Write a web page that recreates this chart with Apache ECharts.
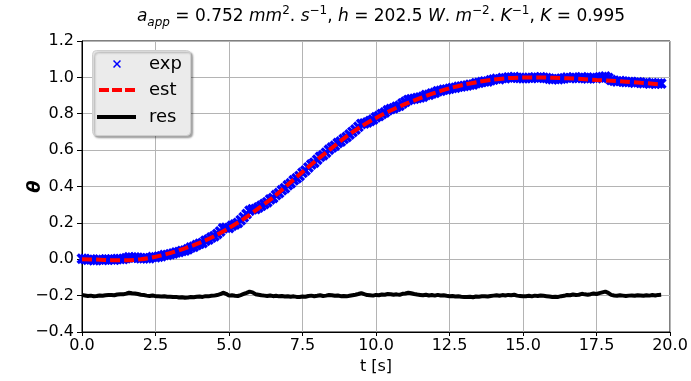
<!DOCTYPE html>
<html>
<head>
<meta charset="utf-8">
<script src="https://cdn.jsdelivr.net/npm/echarts@6/dist/echarts.min.js"></script>
<style>
html,body{margin:0;padding:0;background:#fff;}
#chart{width:691px;height:381px;}
</style>
</head>
<body>
<div id="chart"></div>
<script>
// ---- data ----
const time = [
0.0,0.1,0.2,0.3,0.4,0.5,0.6,0.7,0.8,0.9,
1.0,1.1,1.2,1.3,1.4,1.5,1.6,1.7,1.8,1.9,
2.0,2.1,2.2,2.3,2.4,2.5,2.6,2.7,2.8,2.9,
3.0,3.1,3.2,3.3,3.4,3.5,3.6,3.7,3.8,3.9,
4.0,4.1,4.2,4.3,4.4,4.5,4.6,4.7,4.8,4.9,
5.0,5.1,5.2,5.3,5.4,5.5,5.6,5.7,5.8,5.9,
6.0,6.1,6.2,6.3,6.4,6.5,6.6,6.7,6.8,6.9,
7.0,7.1,7.2,7.3,7.4,7.5,7.6,7.7,7.8,7.9,
8.0,8.1,8.2,8.3,8.4,8.5,8.6,8.7,8.8,8.9,
9.0,9.1,9.2,9.3,9.4,9.5,9.6,9.7,9.8,9.9,
10.0,10.1,10.2,10.3,10.4,10.5,10.6,10.7,10.8,10.9,
11.0,11.1,11.2,11.3,11.4,11.5,11.6,11.7,11.8,11.9,
12.0,12.1,12.2,12.3,12.4,12.5,12.6,12.7,12.8,12.9,
13.0,13.1,13.2,13.3,13.4,13.5,13.6,13.7,13.8,13.9,
14.0,14.1,14.2,14.3,14.4,14.5,14.6,14.7,14.8,14.9,
15.0,15.1,15.2,15.3,15.4,15.5,15.6,15.7,15.8,15.9,
16.0,16.1,16.2,16.3,16.4,16.5,16.6,16.7,16.8,16.9,
17.0,17.1,17.2,17.3,17.4,17.5,17.6,17.7,17.8,17.9,
18.0,18.1,18.2,18.3,18.4,18.5,18.6,18.7,18.8,18.9,
19.0,19.1,19.2,19.3,19.4,19.5,19.6,19.7];

const expValues = [
0.003,0.001,-0.003,-0.001,-0.005,-0.004,-0.002,-0.004,-0.002,-0.001,
-0.001,-0.003,0.001,0.002,0.001,0.005,0.011,0.009,0.010,0.008,
0.005,0.006,0.006,0.006,0.012,0.011,0.014,0.017,0.023,0.024,
0.028,0.031,0.037,0.040,0.046,0.048,0.055,0.064,0.069,0.078,
0.085,0.090,0.102,0.108,0.119,0.127,0.139,0.153,0.170,0.173,
0.172,0.184,0.191,0.200,0.215,0.231,0.249,0.267,0.275,0.276,
0.285,0.294,0.304,0.314,0.329,0.337,0.353,0.364,0.380,0.391,
0.407,0.418,0.434,0.445,0.458,0.475,0.488,0.505,0.521,0.531,
0.547,0.563,0.572,0.586,0.602,0.614,0.624,0.639,0.647,0.661,
0.672,0.686,0.700,0.713,0.728,0.744,0.747,0.752,0.760,0.768,
0.781,0.787,0.799,0.807,0.819,0.826,0.830,0.839,0.844,0.857,
0.866,0.876,0.880,0.882,0.886,0.890,0.894,0.903,0.904,0.912,
0.915,0.924,0.926,0.932,0.934,0.937,0.942,0.943,0.948,0.950,
0.953,0.955,0.960,0.961,0.968,0.970,0.974,0.978,0.978,0.984,
0.988,0.992,0.990,0.996,0.995,1.000,0.999,1.002,0.998,0.996,
0.995,0.996,0.998,0.996,1.000,0.998,1.001,0.998,0.996,0.993,
0.990,0.991,0.990,0.993,0.995,0.999,0.996,0.999,0.996,0.997,
1.001,0.997,0.994,0.996,0.999,0.995,0.999,1.002,1.005,0.997,
0.985,0.981,0.978,0.980,0.977,0.974,0.975,0.975,0.971,0.973,
0.971,0.968,0.970,0.966,0.968,0.965,0.967,0.966];

const resValues = [
-0.197,-0.199,-0.202,-0.200,-0.203,-0.202,-0.199,-0.201,-0.198,-0.197,
-0.196,-0.198,-0.194,-0.192,-0.193,-0.189,-0.184,-0.187,-0.188,-0.191,
-0.195,-0.197,-0.200,-0.202,-0.199,-0.203,-0.204,-0.205,-0.203,-0.206,
-0.206,-0.208,-0.207,-0.210,-0.209,-0.212,-0.211,-0.208,-0.209,-0.206,
-0.205,-0.207,-0.203,-0.204,-0.201,-0.200,-0.197,-0.192,-0.184,-0.190,
-0.200,-0.198,-0.201,-0.202,-0.197,-0.191,-0.185,-0.178,-0.182,-0.192,
-0.195,-0.198,-0.200,-0.202,-0.199,-0.203,-0.201,-0.204,-0.202,-0.205,
-0.203,-0.206,-0.204,-0.207,-0.208,-0.205,-0.206,-0.202,-0.200,-0.203,
-0.201,-0.198,-0.202,-0.200,-0.197,-0.198,-0.201,-0.199,-0.203,-0.202,
-0.204,-0.201,-0.198,-0.195,-0.191,-0.186,-0.192,-0.197,-0.198,-0.200,
-0.196,-0.198,-0.194,-0.195,-0.191,-0.192,-0.195,-0.193,-0.196,-0.190,
-0.188,-0.184,-0.187,-0.191,-0.194,-0.196,-0.198,-0.195,-0.199,-0.197,
-0.200,-0.196,-0.199,-0.198,-0.201,-0.203,-0.202,-0.205,-0.204,-0.206,
-0.207,-0.208,-0.206,-0.209,-0.205,-0.206,-0.204,-0.203,-0.205,-0.202,
-0.200,-0.198,-0.201,-0.197,-0.199,-0.196,-0.198,-0.195,-0.200,-0.202,
-0.204,-0.203,-0.201,-0.204,-0.200,-0.202,-0.199,-0.201,-0.203,-0.205,
-0.208,-0.206,-0.207,-0.203,-0.201,-0.196,-0.198,-0.194,-0.197,-0.195,
-0.190,-0.193,-0.195,-0.192,-0.188,-0.191,-0.186,-0.182,-0.178,-0.185,
-0.196,-0.199,-0.201,-0.198,-0.200,-0.202,-0.200,-0.199,-0.201,-0.198,
-0.199,-0.201,-0.198,-0.200,-0.197,-0.199,-0.196,-0.195];

const estTime = [0.0,0.5,1.0,1.5,2.0,2.5,3.0,3.5,4.0,4.5,5.0,5.5,6.0,6.5,7.0,7.5,8.0,8.5,9.0,9.5,
10.0,10.5,11.0,11.5,12.0,12.5,13.0,13.5,14.0,14.5,15.0,15.5,16.0,16.5,17.0,17.5,18.0,18.5,19.0,19.5,19.7];
const estValues = [0.000,-0.002,-0.005,-0.006,0.000,0.014,0.034,0.060,0.090,0.127,0.172,0.222,0.280,0.340,0.410,0.480,0.548,0.612,0.676,0.730,
0.777,0.818,0.854,0.886,0.915,0.940,0.960,0.976,0.988,0.996,0.999,1.000,0.998,0.995,0.991,0.986,0.981,0.976,0.970,0.964,0.961];

const seriesNames = ['exp', 'est', 'res'];
const xTicks = {min: 0, max: 20, interval: 2.5};
const yTicks = {min: -0.4, max: 1.2, interval: 0.2};

// ---- chart ----
const FONT = 'DejaVu Sans';
const pair = (xs, ys) => xs.map((x, i) => [x, ys[i]]);
const X_THICK = 'path://M0,2.2L2.2,0L5,2.8L7.8,0L10,2.2L7.2,5L10,7.8L7.8,10L5,7.2L2.2,10L0,7.8L2.8,5Z';
const X_THIN = 'path://M0,1.3L1.3,0L5,3.7L8.7,0L10,1.3L6.3,5L10,8.7L8.7,10L5,6.3L1.3,10L0,8.7L3.7,5Z';
const DASH_ICON = 'path://M0,0h10v4h-10zM13,0h10v4h-10zM26,0h10v4h-10z';
const fmtMinus = s => s.replace('-', '\u2212');
const legendText = pad => ({fontFamily: FONT, fontSize: 18, color: '#000', lineHeight: 20, padding: [0, 0, 0, pad]});

const chart = echarts.init(document.getElementById('chart'), null, {renderer: 'canvas'});
const option = {
  animation: false,
  backgroundColor: '#ffffff',
  title: {
    left: 376, top: 0, textAlign: 'center',
    text: '{i|a}{sub|app}{n| = 0.752 }{i|mm}{sup|2}{n|. }{i|s}{sup|\u22121}{n|, }{i|h}{n| = 202.5 }{i|W}{n|. }{i|m}{sup|\u22122}{n|. }{i|K}{sup|\u22121}{n|, }{i|K}{n| = 0.995}',
    textStyle: {
      fontFamily: FONT, fontSize: 17, fontWeight: 'normal', color: '#000',
      rich: {
        n: {fontFamily: FONT, fontSize: 17, color: '#000', lineHeight: 24},
        i: {fontFamily: FONT, fontSize: 17, fontStyle: 'italic', color: '#000', lineHeight: 24},
        sub: {fontFamily: FONT, fontSize: 12, fontStyle: 'italic', color: '#000', lineHeight: 10, verticalAlign: 'bottom'},
        sup: {fontFamily: FONT, fontSize: 12, color: '#000', lineHeight: 13, verticalAlign: 'top'}
      }
    }
  },
  grid: {left: 82, right: 21, top: 41, bottom: 49, show: true, borderColor: '#000', borderWidth: 1, backgroundColor: 'transparent'},
  xAxis: {
    type: 'value', min: xTicks.min, max: xTicks.max, interval: xTicks.interval,
    name: 't [s]', nameLocation: 'middle', nameGap: 27, nameMoveOverlap: false,
    nameTextStyle: {fontFamily: FONT, fontSize: 16, color: '#000'},
    axisLine: {show: true, onZero: false, lineStyle: {color: '#000', width: 1}},
    axisTick: {show: true, length: 4, lineStyle: {color: '#000'}},
    axisLabel: {fontFamily: FONT, fontSize: 16, color: '#000', margin: 6, formatter: v => fmtMinus(v.toFixed(1))},
    splitLine: {show: true, lineStyle: {color: '#b4b4b4', width: 1}}
  },
  yAxis: {
    type: 'value', min: yTicks.min, max: yTicks.max, interval: yTicks.interval,
    name: '\u03b8', nameLocation: 'middle', nameGap: 38, nameRotate: 90, nameMoveOverlap: false,
    nameTextStyle: {fontFamily: FONT, fontSize: 18, fontWeight: 'bold', fontStyle: 'italic', color: '#000'},
    axisLine: {show: true, onZero: false, lineStyle: {color: '#000', width: 1}},
    axisTick: {show: true, length: 5, lineStyle: {color: '#000'}},
    axisLabel: {fontFamily: FONT, fontSize: 16, color: '#000', margin: 8, formatter: v => fmtMinus(v.toFixed(1))},
    splitLine: {show: true, lineStyle: {color: '#b4b4b4', width: 1}}
  },
  graphic: [{
    type: 'rect', z: 5, left: 92, top: 50,
    shape: {width: 98, height: 85, r: 4},
    style: {fill: '#ebebeb', stroke: '#cfcfcf', lineWidth: 1, shadowColor: 'rgba(0,0,0,0.35)', shadowOffsetX: 2, shadowOffsetY: 2, shadowBlur: 2}
  }],
  legend: [
    {data: [{name: seriesNames[0], icon: X_THIN}], left: 113, top: 54, orient: 'vertical', padding: 0, z: 10,
     itemWidth: 8, itemHeight: 8, itemGap: 0, symbolKeepAspect: false,
     itemStyle: {color: '#0000ff'}, textStyle: legendText(23)},
    {data: [{name: seriesNames[1], icon: DASH_ICON}], left: 99, top: 80, orient: 'vertical', padding: 0, z: 10,
     itemWidth: 36, itemHeight: 4, itemGap: 0, symbolKeepAspect: false,
     itemStyle: {color: '#ff0000'}, textStyle: legendText(9)},
    {data: [{name: seriesNames[2], icon: 'rect'}], left: 97, top: 107, orient: 'vertical', padding: 0, z: 10,
     itemWidth: 39, itemHeight: 4, itemGap: 0, symbolKeepAspect: false,
     itemStyle: {color: '#000000'}, textStyle: legendText(8)}
  ],
  series: [
    {name: seriesNames[0], type: 'scatter', data: pair(time, expValues), symbol: X_THICK, symbolSize: 11,
     itemStyle: {color: '#0000ff', opacity: 1}, z: 2},
    {name: seriesNames[1], type: 'line', data: pair(estTime, estValues), symbol: 'none', smooth: 0.3,
     lineStyle: {color: '#ff0000', width: 4, type: [10, 4]}, itemStyle: {color: '#ff0000'}, z: 3},
    {name: seriesNames[2], type: 'line', data: pair(time, resValues), symbol: 'none',
     lineStyle: {color: '#000000', width: 4}, itemStyle: {color: '#000000'}, z: 3}
  ]
};
chart.setOption(option);
</script>
</body>
</html>
